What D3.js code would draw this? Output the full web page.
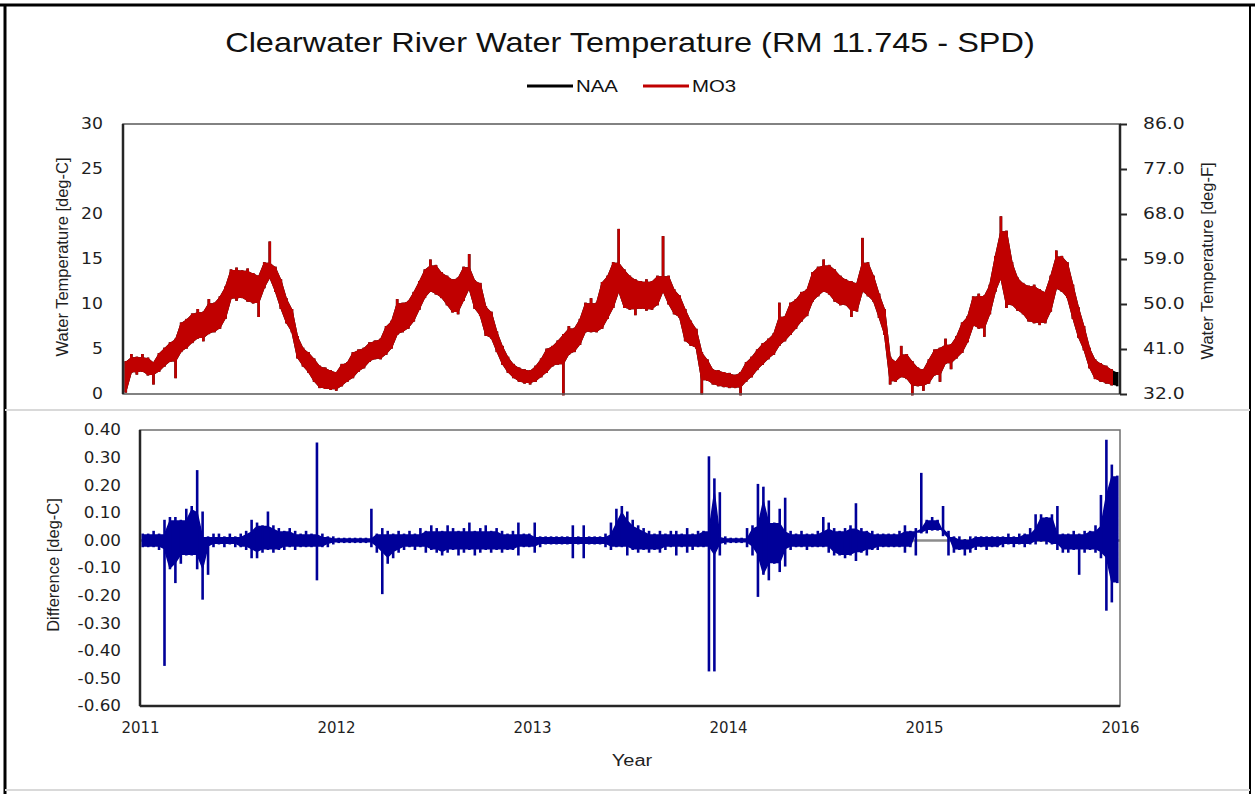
<!DOCTYPE html>
<html>
<head>
<meta charset="utf-8">
<script src="https://cdn.jsdelivr.net/npm/d3@7"></script>
<style>
  body { margin: 0; background: #fff; }
  svg { display: block; }
</style>
</head>
<body>
<svg id="chart" width="1255" height="794"></svg>
<script>
// ---- data -------------------------------------------------------------
// Each series is summarised in ~10-day periods (36 per year, starting 2011-01-01):
// the daily high and daily low within every period.
const years = [2011, 2012, 2013, 2014, 2015, 2016];
const periodsPerYear = 36;

// MO3 water temperature, deg-C
const mo3High = [
  // 2011
  3.5,4.3,4.0,4.3,3.9,3.4,4.4,5.0,5.6,6.0,7.8,8.2,8.8,9.3,9.0,10.4,10.0,10.7,11.8,13.7,13.9,13.6,13.8,13.3,13.0,14.5,16.8,14.0,12.6,10.5,9.3,6.3,5.0,4.5,3.8,3.0,
  // 2012
  2.8,2.5,2.3,3.2,3.4,4.5,4.8,5.0,5.6,5.8,6.0,7.4,8.0,10.4,10.0,10.2,11.2,12.4,13.7,14.8,14.2,13.4,13.0,12.6,12.8,14.0,15.4,12.5,12.2,9.6,9.0,6.8,5.2,4.0,3.2,2.8,
  // 2013
  2.6,2.5,3.0,3.8,4.9,5.2,5.8,6.5,7.4,7.2,8.2,10.0,10.5,10.0,12.3,13.0,14.5,18.2,13.7,13.0,12.6,12.4,12.6,12.4,13.0,17.4,13.0,11.5,10.8,9.3,8.0,7.1,4.5,3.7,2.6,2.5,
  // 2014
  2.3,2.2,2.0,2.3,3.4,4.0,4.8,5.5,6.0,6.6,10.0,8.5,10.0,10.4,11.2,11.5,13.4,14.0,14.8,14.2,13.7,13.0,12.6,12.4,12.2,17.2,14.5,13.0,11.0,9.3,4.0,3.5,5.2,4.3,3.5,2.8,
  // 2015
  2.6,3.7,4.8,5.0,6.0,5.4,6.3,7.8,8.5,10.7,11.0,10.8,12.0,15.2,19.6,18.0,14.5,12.8,12.2,11.9,12.0,11.5,11.2,13.0,15.8,15.2,14.5,12.0,9.5,7.4,5.0,3.7,3.3,3.0,2.6
];
const mo3Low = [
  // 2011
  0.3,2.5,2.3,2.6,2.2,1.2,2.6,3.2,3.7,1.9,4.8,5.2,5.8,6.3,6.0,6.8,7.0,7.4,8.5,10.7,10.5,10.8,10.4,10.2,8.7,11.9,13.0,11.5,9.6,8.0,7.0,4.1,3.2,2.5,1.5,0.8,
  // 2012
  0.7,0.6,0.5,1.0,1.5,1.9,2.6,3.0,3.7,4.0,4.0,4.5,5.2,6.7,7.0,7.4,8.2,9.5,10.8,11.5,11.2,10.8,10.0,9.2,9.0,10.5,11.8,9.6,8.8,6.6,6.3,4.8,3.4,2.5,1.9,1.5,
  // 2013
  1.3,1.2,1.5,2.0,2.5,3.2,3.4,0.0,4.5,4.8,5.6,7.0,7.0,7.0,7.4,8.5,9.7,11.5,9.7,9.5,8.9,9.6,9.4,9.5,10.0,11.5,10.1,9.0,8.6,6.0,5.5,5.2,0.1,1.6,1.2,1.0,
  // 2014
  0.9,0.8,0.8,0.0,1.5,2.0,2.8,3.4,4.0,4.5,5.5,6.0,6.7,7.4,8.2,8.8,10.4,11.0,11.5,11.2,10.4,10.0,10.0,8.7,9.3,11.5,11.0,10.4,8.6,6.7,1.2,1.5,2.0,1.8,0.0,1.0,
  // 2015
  0.5,1.3,2.2,1.5,3.5,2.9,4.1,4.7,5.9,7.7,7.4,6.5,9.0,11.5,13.0,9.7,10.0,9.4,9.0,8.2,8.0,7.8,8.0,9.3,11.8,11.5,10.8,8.5,6.4,5.0,3.0,1.8,1.5,1.3,1.1
];

// NAA water temperature, deg-C: within a line width of MO3 until the last weeks of 2015
const naaHigh = mo3High.slice(0, 175).concat([3.7, 3.3, 3.0, 2.6, 2.3]);
const naaLow  = mo3Low.slice(0, 175).concat([1.8, 1.5, 1.3, 1.1, 1.0]);

// Difference MO3 - NAA, deg-C
const diffHigh = [
  // 2011
  0.02,0.02,0.03,0.02,0.07,0.08,0.08,0.07,0.11,0.12,0.25,0.10,0.01,0.02,0.02,0.01,0.02,0.01,0.02,0.03,0.07,0.06,0.05,0.10,0.05,0.04,0.03,0.04,0.03,0.02,0.03,0.02,0.35,0.02,0.01,0.01,
  // 2012
  0.005,0.005,0.005,0.005,0.005,0.005,0.11,0.02,0.04,0.03,0.02,0.03,0.02,0.03,0.02,0.04,0.03,0.05,0.04,0.03,0.05,0.04,0.03,0.04,0.06,0.03,0.04,0.05,0.03,0.04,0.03,0.02,0.03,0.06,0.02,0.02,
  // 2013
  0.06,0.01,0.01,0.01,0.01,0.01,0.01,0.05,0.01,0.05,0.01,0.01,0.01,0.02,0.06,0.11,0.12,0.10,0.07,0.05,0.04,0.03,0.02,0.03,0.02,0.03,0.03,0.02,0.04,0.02,0.03,0.03,0.30,0.22,0.17,0.01,
  // 2014
  0.005,0.005,0.005,0.04,0.05,0.20,0.19,0.14,0.06,0.11,0.15,0.03,0.02,0.03,0.02,0.02,0.03,0.08,0.06,0.04,0.03,0.04,0.05,0.13,0.04,0.03,0.03,0.02,0.02,0.02,0.02,0.03,0.05,0.03,0.04,0.24,
  // 2015
  0.07,0.08,0.07,0.12,0.03,0.01,0.01,0.00,0.01,0.01,0.01,0.01,0.01,0.01,0.01,0.02,0.01,0.02,0.02,0.04,0.09,0.09,0.08,0.09,0.12,0.02,0.02,0.03,0.02,0.03,0.03,0.05,0.16,0.36,0.27,0.23
];
const diffLow = [
  // 2011
  -0.02,-0.02,-0.02,-0.03,-0.45,-0.10,-0.15,-0.08,-0.05,-0.05,-0.10,-0.21,-0.12,-0.02,-0.01,-0.02,-0.01,-0.02,-0.02,-0.03,-0.06,-0.06,-0.04,-0.03,-0.04,-0.03,-0.03,-0.02,-0.03,-0.02,-0.02,-0.02,-0.14,-0.02,-0.02,-0.01,
  // 2012
  -0.005,-0.005,-0.005,-0.005,-0.005,-0.005,-0.02,-0.04,-0.19,-0.08,-0.06,-0.04,-0.03,-0.02,-0.03,-0.02,-0.04,-0.03,-0.04,-0.05,-0.04,-0.03,-0.05,-0.04,-0.03,-0.05,-0.04,-0.03,-0.04,-0.03,-0.04,-0.03,-0.03,-0.05,-0.02,-0.02,
  // 2013
  -0.04,-0.02,-0.01,-0.01,-0.01,-0.01,-0.01,-0.06,-0.01,-0.06,-0.01,-0.01,-0.01,-0.02,-0.03,-0.02,-0.02,-0.05,-0.03,-0.04,-0.03,-0.04,-0.03,-0.04,-0.03,-0.02,-0.05,-0.02,-0.04,-0.03,-0.02,-0.02,-0.47,-0.47,-0.05,-0.01,
  // 2014
  -0.005,-0.005,-0.005,-0.02,-0.05,-0.20,-0.12,-0.14,-0.08,-0.11,-0.09,-0.03,-0.02,-0.02,-0.03,-0.02,-0.02,-0.02,-0.04,-0.05,-0.05,-0.06,-0.05,-0.07,-0.04,-0.05,-0.03,-0.03,-0.02,-0.02,-0.02,-0.02,-0.04,-0.02,-0.05,0.03,
  // 2015
  0.03,0.04,0.04,0.02,-0.05,-0.04,-0.03,-0.05,-0.04,-0.03,-0.02,-0.03,-0.02,-0.02,-0.02,-0.01,-0.02,-0.01,-0.02,-0.01,-0.01,0.00,-0.01,-0.01,-0.03,-0.04,-0.04,-0.03,-0.12,-0.04,-0.03,-0.04,-0.06,-0.25,-0.22,-0.15
];

const tempTicksC = [0, 5, 10, 15, 20, 25, 30];
const tempTicksF = [32, 41, 50, 59, 68, 77, 86];
const diffTicks = [0.4, 0.3, 0.2, 0.1, 0, -0.1, -0.2, -0.3, -0.4, -0.5, -0.6];

const seriesNames = ["NAA", "MO3"];
const seriesColors = { NAA: "#000000", MO3: "#c00000", Diff: "#000099" };

// ---- helpers ------------------------------------------------------------
const periodTime = i => years[0] + (i + 0.5) / periodsPerYear;

// Rows of period high/low.
function rows(high, low) {
  return high.map((h, i) => ({ t: periodTime(i), hi: h, lo: low[i] }));
}

// Ribbon body: the part of each period's range that its neighbours also share,
// so brief one-day excursions are left to the thin range strokes.
// "loose" keeps whatever either neighbour reaches; "tight" keeps only what all three reach.
function body(high, low, mode) {
  const n = high.length, at = (a, i) => a[Math.max(0, Math.min(n - 1, i))];
  return high.map((h, i) => {
    const hp = at(high, i - 1), hn = at(high, i + 1), lp = at(low, i - 1), ln = at(low, i + 1);
    return mode === "tight"
      ? { t: periodTime(i), hi: Math.min(h, hp, hn), lo: Math.max(low[i], lp, ln) }
      : { t: periodTime(i), hi: Math.min(h, Math.max(hp, hn)), lo: Math.max(low[i], Math.min(lp, ln)) };
  });
}

// Draw one series: a filled ribbon plus a vertical stroke through each period's range.
function drawSeries(parent, high, low, x, y, color, mode) {
  const g = parent.append("g");
  const area = d3.area().x(d => x(d.t)).y0(d => y(d.lo)).y1(d => y(d.hi));
  g.append("path").datum(body(high, low, mode)).attr("d", area)
    .attr("fill", color).attr("stroke", color)
    .attr("stroke-width", 1.5).attr("stroke-linejoin", "round");
  g.selectAll("line").data(rows(high, low)).join("line")
    .attr("x1", d => x(d.t)).attr("x2", d => x(d.t))
    .attr("y1", d => y(d.hi)).attr("y2", d => y(d.lo))
    .attr("stroke", color).attr("stroke-width", 2.6).attr("stroke-linecap", "square");
  return g;
}

const svg = d3.select("#chart");
const W = 1255, H = 794;
const tickFont = "DejaVu Sans, Verdana, sans-serif";
const labelFont = "Liberation Sans, Arial, sans-serif";
const inkColor = "#1f1f1f";

// Widen axis text horizontally about its own anchor point.
function widen(sel, k) {
  sel.each(function () {
    const t = d3.select(this);
    const x = +t.attr("x") || 0;
    t.attr("x", x / k).attr("transform", `scale(${k},1)`);
  });
}

svg.append("rect").attr("width", W).attr("height", H).attr("fill", "#fff");

// ---- frame ----------------------------------------------------------------
svg.append("line").attr("x1", 0).attr("x2", W).attr("y1", 5).attr("y2", 5)
  .attr("stroke", "#000").attr("stroke-width", 3);
svg.append("line").attr("x1", 5).attr("x2", 5).attr("y1", 4).attr("y2", H)
  .attr("stroke", "#000").attr("stroke-width", 3);
svg.append("line").attr("x1", 1250).attr("x2", 1250).attr("y1", 4).attr("y2", H)
  .attr("stroke", "#000").attr("stroke-width", 2);
svg.append("line").attr("x1", 5).attr("x2", 1250).attr("y1", 410).attr("y2", 410)
  .attr("stroke", "#d9d9d9").attr("stroke-width", 2);
svg.append("line").attr("x1", 5).attr("x2", 1250).attr("y1", 790).attr("y2", 790)
  .attr("stroke", "#d9d9d9").attr("stroke-width", 2);

// ---- title & legend ---------------------------------------------------------
svg.append("g").attr("transform", "translate(630,52)")
  .append("text").attr("text-anchor", "middle")
  .attr("font-family", labelFont).attr("font-size", 28).attr("fill", "#111")
  .attr("transform", "scale(1.16,1)")
  .text("Clearwater River Water Temperature (RM 11.745 - SPD)");

const legend = svg.append("g").attr("transform", "translate(527,86)");
seriesNames.forEach((name, i) => {
  const g = legend.append("g").attr("transform", `translate(${i * 116},0)`);
  g.append("line").attr("x1", 0).attr("x2", 46).attr("y1", 0).attr("y2", 0)
    .attr("stroke", seriesColors[name]).attr("stroke-width", 3);
  g.append("g").attr("transform", "translate(49,6)")
    .append("text").attr("font-family", labelFont).attr("font-size", 17)
    .attr("transform", "scale(1.2,1)").attr("fill", "#111").text(name);
});

// ---- upper panel: temperatures ---------------------------------------------------
const upper = { left: 123, right: 1120, top: 124, bottom: 394 };
const xTop = d3.scaleLinear().domain([years[0], years[years.length - 1]]).range([upper.left, upper.right]);
const yC = d3.scaleLinear().domain([0, 30]).range([upper.bottom, upper.top]);
const yF = d3.scaleLinear().domain([32, 86]).range([upper.bottom, upper.top]);

drawSeries(svg, naaHigh, naaLow, xTop, yC, seriesColors.NAA, "loose");
drawSeries(svg, mo3High, mo3Low, xTop, yC, seriesColors.MO3, "loose");

// plot box
svg.append("rect").attr("x", upper.left).attr("y", upper.top)
  .attr("width", upper.right - upper.left).attr("height", upper.bottom - upper.top)
  .attr("fill", "none").attr("stroke", "#595959").attr("stroke-width", 1.5);
svg.append("line").attr("x1", upper.left).attr("x2", upper.left).attr("y1", upper.top).attr("y2", upper.bottom)
  .attr("stroke", "#262626").attr("stroke-width", 2.5);
svg.append("line").attr("x1", upper.right).attr("x2", upper.right).attr("y1", upper.top).attr("y2", upper.bottom)
  .attr("stroke", "#262626").attr("stroke-width", 2.5);

const axisC = svg.append("g").attr("transform", `translate(${upper.left},0)`)
  .call(d3.axisLeft(yC).tickValues(tempTicksC).tickSize(0).tickPadding(20));
const axisF = svg.append("g").attr("transform", `translate(${upper.right},0)`)
  .call(d3.axisRight(yF).tickValues(tempTicksF).tickSize(7).tickPadding(16).tickFormat(d => d.toFixed(1)));
[axisC, axisF].forEach(a => {
  a.select(".domain").remove();
  a.selectAll("line").attr("stroke", "#262626").attr("stroke-width", 2);
  a.selectAll("text").attr("font-family", tickFont).attr("font-size", 15).attr("fill", inkColor);
});
widen(axisC.selectAll("text"), 1.15);
widen(axisF.selectAll("text"), 1.25);

svg.append("text").attr("transform", "translate(68,257) rotate(-90)")
  .attr("text-anchor", "middle").attr("font-family", labelFont).attr("font-size", 16.5)
  .attr("fill", inkColor).text("Water Temperature [deg-C]");
svg.append("text").attr("transform", "translate(1213,261) rotate(-90)")
  .attr("text-anchor", "middle").attr("font-family", labelFont).attr("font-size", 16.5)
  .attr("fill", inkColor).text("Water Temperature [deg-F]");

// ---- lower panel: difference ----------------------------------------------------
const lower = { left: 140, right: 1120, top: 430, bottom: 706 };
const xBot = d3.scaleLinear().domain([years[0], years[years.length - 1]]).range([lower.left, lower.right]);
const yD = d3.scaleLinear().domain([-0.6, 0.4]).range([lower.bottom, lower.top]);

// zero reference
svg.append("line").attr("x1", lower.left).attr("x2", lower.right).attr("y1", yD(0)).attr("y2", yD(0))
  .attr("stroke", "#8c8c8c").attr("stroke-width", 2.5);

drawSeries(svg, diffHigh, diffLow, xBot, yD, seriesColors.Diff, "tight");

svg.append("rect").attr("x", lower.left).attr("y", lower.top)
  .attr("width", lower.right - lower.left).attr("height", lower.bottom - lower.top)
  .attr("fill", "none").attr("stroke", "#6f6f6f").attr("stroke-width", 1.5);
svg.append("line").attr("x1", lower.left).attr("x2", lower.left).attr("y1", lower.top).attr("y2", lower.bottom)
  .attr("stroke", "#262626").attr("stroke-width", 2.5);
svg.append("line").attr("x1", lower.left).attr("x2", lower.right).attr("y1", lower.bottom).attr("y2", lower.bottom)
  .attr("stroke", "#262626").attr("stroke-width", 2.5);

const axisD = svg.append("g").attr("transform", `translate(${lower.left},0)`)
  .call(d3.axisLeft(yD).tickValues(diffTicks).tickSize(0).tickPadding(19).tickFormat(d => d.toFixed(2)));
const axisX = svg.append("g").attr("transform", `translate(0,${lower.bottom})`)
  .call(d3.axisBottom(xBot).tickValues(years).tickSize(0).tickPadding(16).tickFormat(d3.format("d")));
[axisD, axisX].forEach(a => {
  a.select(".domain").remove();
  a.selectAll("text").attr("font-family", tickFont).attr("font-size", 15).attr("fill", inkColor);
});
widen(axisD.selectAll("text"), 1.12);

svg.append("text").attr("transform", "translate(59,565) rotate(-90)")
  .attr("text-anchor", "middle").attr("font-family", labelFont).attr("font-size", 16.5)
  .attr("fill", inkColor).text("Difference [deg-C]");
svg.append("g").attr("transform", "translate(632,766)")
  .append("text").attr("text-anchor", "middle").attr("transform", "scale(1.25,1)")
  .attr("font-family", labelFont).attr("font-size", 16).attr("fill", inkColor).text("Year");
</script>
</body>
</html>
